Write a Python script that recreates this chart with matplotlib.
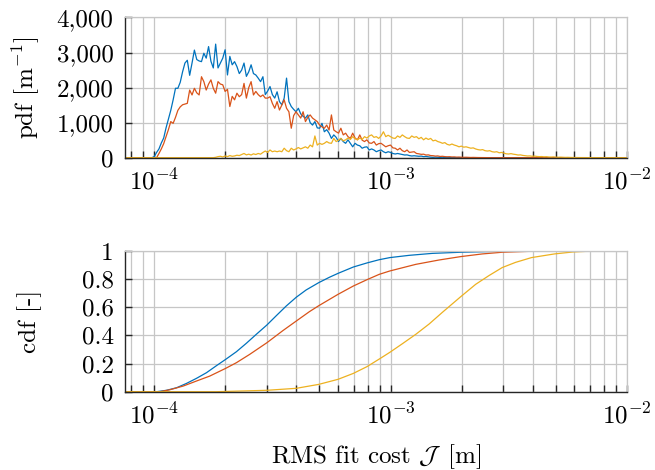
import numpy as np
import matplotlib
matplotlib.use("Agg")
import matplotlib.pyplot as plt
from matplotlib.ticker import FixedLocator, FuncFormatter, LogLocator, NullFormatter

# ---------------- data ----------------
# histogram bin centres (log10 of RMS fit cost in m)
log_x = [
    -4.13, -4.12, -4.11, -4.10, -4.09, -4.08, -4.07, -4.06, -4.05, -4.04, -4.03,
    -4.02, -4.01, -4.00, -3.99, -3.98, -3.97, -3.96, -3.95, -3.94, -3.93,
    -3.92, -3.91, -3.90, -3.89, -3.88, -3.87, -3.86, -3.85, -3.84, -3.83,
    -3.82, -3.81, -3.80, -3.79, -3.78, -3.77, -3.76, -3.75, -3.74, -3.73,
    -3.72, -3.71, -3.70, -3.69, -3.68, -3.67, -3.66, -3.65, -3.64, -3.63,
    -3.62, -3.61, -3.60, -3.59, -3.58, -3.57, -3.56, -3.55, -3.54, -3.53,
    -3.52, -3.51, -3.50, -3.49, -3.48, -3.47, -3.46, -3.45, -3.44, -3.43,
    -3.42, -3.41, -3.40, -3.39, -3.38, -3.37, -3.36, -3.35, -3.34, -3.33,
    -3.32, -3.31, -3.30, -3.29, -3.28, -3.27, -3.26, -3.25, -3.24, -3.23,
    -3.22, -3.21, -3.20, -3.19, -3.18, -3.17, -3.16, -3.15, -3.14, -3.13,
    -3.12, -3.11, -3.10, -3.09, -3.08, -3.07, -3.06, -3.05, -3.04, -3.03,
    -3.02, -3.01, -3.00, -2.99, -2.98, -2.97, -2.96, -2.95, -2.94, -2.93,
    -2.92, -2.91, -2.90, -2.89, -2.88, -2.87, -2.86, -2.85, -2.84, -2.83,
    -2.82, -2.81, -2.80, -2.79, -2.78, -2.77, -2.76, -2.75, -2.74, -2.73,
    -2.72, -2.71, -2.70, -2.69, -2.68, -2.67, -2.66, -2.65, -2.64, -2.63,
    -2.62, -2.61, -2.60, -2.59, -2.58, -2.57, -2.56, -2.55, -2.54, -2.53,
    -2.52, -2.51, -2.50, -2.49, -2.48, -2.47, -2.46, -2.45, -2.44, -2.43,
    -2.42, -2.41, -2.40, -2.39, -2.38, -2.37, -2.36, -2.35, -2.34, -2.33,
    -2.32, -2.31, -2.30, -2.29, -2.28, -2.27, -2.26, -2.25, -2.24, -2.23,
    -2.22, -2.21, -2.20, -2.19, -2.18, -2.17, -2.16, -2.15, -2.14, -2.13,
    -2.12, -2.11, -2.10, -2.09, -2.08, -2.07, -2.06, -2.05, -2.04, -2.03,
    -2.02, -2.01, -2.00,
]

pdf_blue = [
    0, 0, 0, 0, 0, 0, 0, 0, 0, 0, 0,
    0, 0, 30, 150, 250, 420, 560, 850, 1100, 1350,
    1650, 1980, 1980, 2150, 2450, 2700, 2780, 2350, 2700, 3070,
    2800, 2760, 2740, 2980, 2840, 3170, 2750, 2560, 3240, 2560,
    2700, 2840, 3080, 2360, 2890, 2650, 2740, 2600, 2400, 2500,
    2700, 2320, 2450, 2650, 2400, 2360, 2270, 2170, 2310, 1800,
    1900, 2030, 1800, 1700, 1880, 1600, 1510, 1700, 2270, 1600,
    1460, 1380, 1310, 1410, 1250, 1180, 1130, 1220, 1000, 930,
    1030, 850, 840, 980, 740, 800, 700, 550, 650, 580,
    460, 550, 460, 410, 510, 410, 310, 410, 360, 340,
    270, 300, 310, 220, 250, 220, 170, 200, 220, 170,
    140, 170, 150, 120, 105, 120, 105, 90, 76, 80,
    60, 48, 55, 48, 40, 45, 30, 35, 25, 15,
    10, 15, 10, 8, 12, 5, 8, 4, 5, 3,
    2, 3, 0, 2, 0, 1, 0, 0, 0, 0,
    0, 0, 0, 0, 0, 0, 0, 0, 0, 0,
    0, 0, 0, 0, 0, 0, 0, 0, 0, 0,
    0, 0, 0, 0, 0, 0, 0, 0, 0, 0,
    0, 0, 0, 0, 0, 0, 0, 0, 0, 0,
    0, 0, 0, 0, 0, 0, 0, 0, 0, 0,
    0, 0, 0, 0, 0, 0, 0, 0, 0, 0,
    0, 0, 0,
]

pdf_red = [
    0, 0, 0, 0, 0, 0, 0, 0, 0, 0, 0,
    0, 0, 0, 0, 120, 250, 400, 600, 800, 1030,
    980, 1150, 1350, 1450, 1510, 1530, 1550, 1930, 1790, 1980,
    1850, 1790, 2310, 2170, 1930, 2100, 2220, 1980, 1840, 2170,
    2100, 2080, 1890, 1950, 1460, 1750, 1650, 1840, 1740, 1800,
    2120, 1700, 2000, 2170, 1790, 1890, 1800, 1740, 1790, 1700,
    1700, 1740, 1550, 1410, 1600, 1360, 1500, 1650, 1410, 1310,
    840, 1200, 1310, 1220, 1130, 1310, 1030, 1150, 1220, 1130,
    1080, 1030, 930, 880, 840, 930, 790, 1220, 790, 740,
    700, 840, 650, 700, 600, 550, 700, 560, 510, 650,
    500, 460, 510, 420, 410, 460, 360, 400, 410, 360,
    310, 340, 360, 280, 270, 220, 270, 200, 170, 220,
    150, 160, 170, 120, 110, 95, 100, 76, 80, 60,
    57, 45, 50, 35, 40, 30, 25, 28, 20, 22,
    15, 18, 12, 10, 12, 8, 6, 8, 5, 4,
    3, 2, 3, 1, 2, 0, 1, 0, 0, 0,
    0, 0, 0, 0, 0, 0, 0, 0, 0, 0,
    0, 0, 0, 0, 0, 0, 0, 0, 0, 0,
    0, 0, 0, 0, 0, 0, 0, 0, 0, 0,
    0, 0, 0, 0, 0, 0, 0, 0, 0, 0,
    0, 0, 0, 0, 0, 0, 0, 0, 0, 0,
    0, 0, 0,
]

pdf_yellow = [
    0, 0, 0, 0, 0, 0, 0, 0, 0, 0, 0,
    0, 0, 0, 0, 0, 0, 0, 0, 0, 0,
    0, 0, 0, 0, 0, 0, 0, 0, 0, 0,
    0, 0, 0, 0, 0, 0, 0, 0, 10, 30,
    40, 20, 50, 30, 60, 40, 50, 70, 60, 90,
    120, 80, 100, 76, 110, 90, 120, 100, 150, 190,
    150, 220, 170, 190, 170, 190, 170, 270, 200, 170,
    270, 220, 250, 290, 250, 280, 310, 270, 360, 310,
    620, 360, 410, 380, 410, 460, 420, 410, 550, 460,
    500, 550, 480, 510, 560, 520, 600, 540, 510, 560,
    520, 600, 560, 620, 650, 580, 600, 550, 620, 740,
    600, 640, 600, 560, 550, 620, 580, 650, 600, 560,
    550, 620, 580, 600, 540, 580, 510, 560, 520, 550,
    480, 500, 460, 440, 410, 430, 380, 360, 390, 360,
    340, 310, 330, 300, 310, 290, 270, 280, 250, 230,
    220, 230, 200, 190, 200, 170, 160, 170, 140, 150,
    130, 110, 105, 115, 100, 90, 76, 80, 65, 55,
    48, 50, 40, 45, 35, 30, 32, 25, 28, 20,
    18, 22, 15, 12, 15, 10, 8, 10, 6, 5,
    6, 4, 3, 4, 2, 2, 3, 1, 2, 1,
    2, 1, 1, 0, 1, 0, 1, 0, 0, 0,
    0, 0, 0,
]

cdf_blue_x = [7.5e-5, 1.023e-4, 1.128e-4, 1.243e-4, 1.370e-4, 1.510e-4, 1.664e-4,
              1.834e-4, 2.007e-4, 2.227e-4, 2.454e-4, 2.705e-4, 2.998e-4, 3.285e-4,
              3.620e-4, 3.990e-4, 4.395e-4, 4.969e-4, 5.512e-4, 5.998e-4, 6.961e-4,
              7.951e-4, 8.960e-4, 9.94e-4, 1.199e-3, 1.504e-3, 1.982e-3, 2.969e-3,
              4.67e-3, 1.0e-2]
cdf_blue_y = [0, 0, 0.010, 0.028, 0.059, 0.095, 0.135,
              0.185, 0.230, 0.284, 0.344, 0.408, 0.474, 0.540,
              0.609, 0.671, 0.723, 0.775, 0.813, 0.841, 0.886,
              0.915, 0.938, 0.953, 0.969, 0.983, 0.991, 0.998,
              1.0, 1.0]

cdf_red_x = [7.5e-5, 1.057e-4, 1.165e-4, 1.326e-4, 1.510e-4, 1.718e-4, 2.007e-4,
             2.227e-4, 2.534e-4, 2.998e-4, 3.503e-4, 3.990e-4, 4.539e-4, 4.969e-4,
             5.998e-4, 6.961e-4, 7.951e-4, 8.960e-4, 9.94e-4, 1.280e-3, 1.606e-3,
             1.982e-3, 2.445e-3, 2.969e-3, 3.97e-3, 5.86e-3, 1.0e-2]
cdf_red_y = [0, 0, 0.014, 0.040, 0.076, 0.111, 0.166,
             0.206, 0.265, 0.348, 0.434, 0.502, 0.569, 0.611,
             0.692, 0.751, 0.796, 0.834, 0.858, 0.905, 0.936,
             0.960, 0.979, 0.991, 0.998, 1.0, 1.0]

cdf_yellow_x = [7.5e-5, 1.834e-4, 2.998e-4, 3.990e-4, 4.969e-4, 5.998e-4, 6.961e-4,
                7.951e-4, 8.960e-4, 9.94e-4, 1.123e-3, 1.280e-3, 1.457e-3, 1.658e-3,
                1.982e-3, 2.293e-3, 2.610e-3, 2.969e-3, 3.382e-3, 3.951e-3, 4.94e-3,
                5.918e-3, 6.893e-3, 8.93e-3, 1.0e-2]
cdf_yellow_y = [0, 0, 0.010, 0.024, 0.052, 0.088, 0.130,
                0.178, 0.232, 0.280, 0.341, 0.408, 0.481, 0.564,
                0.675, 0.763, 0.825, 0.882, 0.919, 0.953, 0.979,
                0.993, 0.998, 1.0, 1.0]

pdf_yticks = [0, 1000, 2000, 3000, 4000]
cdf_yticks = [0, 0.2, 0.4, 0.6, 0.8, 1.0]
xticks = [1e-4, 1e-3, 1e-2]

assert len(log_x) == len(pdf_blue) == len(pdf_red) == len(pdf_yellow)

# ---------------- style ----------------
plt.rcParams['font.family'] = 'serif'
plt.rcParams['font.serif'] = ['cmr10']
plt.rcParams['mathtext.fontset'] = 'cm'
plt.rcParams['axes.formatter.use_mathtext'] = True
plt.rcParams['axes.unicode_minus'] = False
plt.rcParams['font.size'] = 18

C_BLUE = '#0072BD'
C_RED = '#D95319'
C_YEL = '#EDB120'
GRID = '#c6c6c6'
AXC = '#262626'
LW = 0.9

fig = plt.figure(figsize=(6.55, 4.70), dpi=100)
ax1 = fig.add_axes([0.1904, 0.6645, 0.7665, 0.2983])
ax2 = fig.add_axes([0.1904, 0.1666, 0.7665, 0.2994])

x = 10 ** np.array(log_x)
ax1.plot(x, pdf_blue, color=C_BLUE, lw=LW)
ax1.plot(x, pdf_red, color=C_RED, lw=LW)
ax1.plot(x, pdf_yellow, color=C_YEL, lw=LW)

ax2.plot(cdf_blue_x, cdf_blue_y, color=C_BLUE, lw=LW)
ax2.plot(cdf_red_x, cdf_red_y, color=C_RED, lw=LW)
ax2.plot(cdf_yellow_x, cdf_yellow_y, color=C_YEL, lw=LW)

def xfmt(v, pos):
    e = int(round(np.log10(v)))
    return r'$10^{%d}$' % e

for ax, yt, ylim in ((ax1, pdf_yticks, (0, 4000)), (ax2, cdf_yticks, (0, 1))):
    ax.set_xscale('log')
    ax.set_xlim(7.5e-5, 1e-2)
    ax.set_ylim(*ylim)
    ax.xaxis.set_major_locator(FixedLocator(xticks))
    ax.xaxis.set_minor_locator(LogLocator(base=10, subs=np.arange(2, 10)))
    ax.xaxis.set_minor_formatter(NullFormatter())
    ax.xaxis.set_major_formatter(FuncFormatter(xfmt))
    ax.yaxis.set_major_locator(FixedLocator(yt))
    ax.grid(True, which='major', axis='both', color=GRID, lw=0.9)
    ax.grid(True, which='minor', axis='x', color=GRID, lw=0.9)
    ax.set_axisbelow(True)
    ax.tick_params(axis='both', which='both', direction='in', color=AXC,
                   top=False, right=False, labelsize=18)
    ax.tick_params(axis='x', which='major', length=5, width=1.0, pad=8)
    ax.tick_params(axis='x', which='minor', length=5, width=1.0)
    ax.tick_params(axis='y', which='major', length=5, width=1.0, pad=8)
    for s in ('left', 'bottom'):
        ax.spines[s].set_color(AXC)
        ax.spines[s].set_linewidth(1.0)
    for s in ('top', 'right'):
        ax.spines[s].set_color(GRID)
        ax.spines[s].set_linewidth(0.9)

ax1.yaxis.set_major_formatter(FuncFormatter(lambda v, p: f"{v:,.0f}"))
ax2.yaxis.set_major_formatter(FuncFormatter(lambda v, p: f"{v:g}"))

ax1.set_ylabel(r'pdf [m$^{-1}$]')
ax2.set_ylabel('cdf [-]')
ax1.yaxis.set_label_coords(-0.165, 0.5)
ax2.yaxis.set_label_coords(-0.165, 0.5)
ax2.set_xlabel(r'RMS fit cost $\mathcal{J}\,$ [m]')
ax2.xaxis.set_label_coords(0.5, -0.36)
ax2.xaxis.label.set_va('top')

fig.savefig('out.png', dpi=100)
